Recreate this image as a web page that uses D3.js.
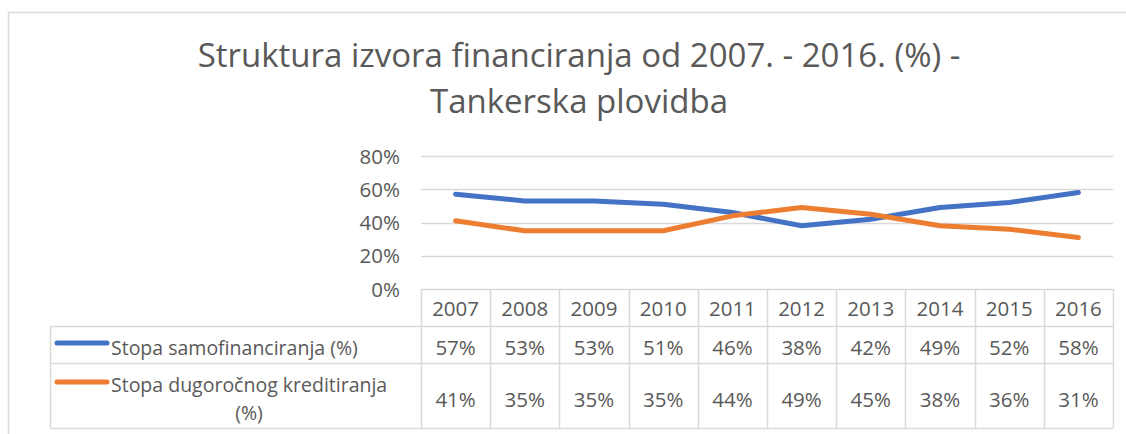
<!DOCTYPE html>
<html>
<head>
<meta charset="utf-8">
<script src="https://cdn.jsdelivr.net/npm/d3@7"></script>
<style>
  html, body { margin: 0; padding: 0; background: #fff; }
  svg { display: block; }
  text { font-family: "Open Sans", "Noto Sans", sans-serif; fill: #595959; }
</style>
</head>
<body>
<svg id="chart" width="1126" height="434"></svg>
<script>
// Financing structure, tanker shipping, 2007–2016
const years = ["2007", "2008", "2009", "2010", "2011", "2012", "2013", "2014", "2015", "2016"];
const selfFinancing = [57, 53, 53, 51, 46, 38, 42, 49, 52, 58];
const longTermCredit = [41, 35, 35, 35, 44, 49, 45, 38, 36, 31];
const seriesNames = ["Stopa samofinanciranja (%)", "Stopa dugoročnog kreditiranja (%)"];
const yTicks = [0, 20, 40, 60, 80];
const titleLines = ["Struktura izvora financiranja od 2007. - 2016. (%) -", "Tankerska plovidba"];

const series = [
  { name: seriesNames[0], values: selfFinancing, color: "#4472C4" },
  { name: seriesNames[1], values: longTermCredit, color: "#ED7D31" }
];

const svg = d3.select("#chart");
const grid = "#d9d9d9";

// outer chart frame
svg.append("rect")
  .attr("x", 8.5).attr("y", 12.5)
  .attr("width", 1140).attr("height", 440)
  .attr("fill", "none").attr("stroke", grid).attr("stroke-width", 1.5);

// title
const title = svg.append("text")
  .attr("text-anchor", "middle")
  .style("font-size", "33px");
title.selectAll("tspan").data(titleLines).join("tspan")
  .attr("x", 579)
  .attr("y", (d, i) => 67 + i * 46)
  .text(d => d);

// scales
const x = d3.scaleBand().domain(years).range([421, 1113]);
const y = d3.scaleLinear().domain([0, 80]).range([289, 156]);

// horizontal gridlines
svg.append("g").selectAll("line").data(yTicks.filter(t => t > 0)).join("line")
  .attr("x1", 421).attr("x2", 1113)
  .attr("y1", d => Math.round(y(d)) + 0.5).attr("y2", d => Math.round(y(d)) + 0.5)
  .attr("stroke", grid).attr("stroke-width", 1.5);

// y axis labels
const yAxis = svg.append("g")
  .attr("transform", "translate(400,0)")
  .call(d3.axisLeft(y).tickValues(yTicks).tickFormat(d => d + "%").tickSize(0).tickPadding(0));
yAxis.select(".domain").remove();
yAxis.selectAll("text")
  .attr("x", 0).attr("dy", "0.35em")
  .style("font-family", "\"Open Sans\", sans-serif")
  .style("font-size", "20.5px").attr("fill", "#595959");

// lines
const line = d3.line()
  .x((d, i) => x(years[i]) + x.bandwidth() / 2)
  .y(d => y(d));
svg.append("g").selectAll("path").data(series).join("path")
  .attr("d", d => line(d.values))
  .attr("fill", "none")
  .attr("stroke", d => d.color)
  .attr("stroke-width", 5)
  .attr("stroke-linejoin", "round")
  .attr("stroke-linecap", "round");

// data table
const rowTop = [289, 326, 363];
const rowBottom = [326, 363, 428];
const labelLeft = 50;
const table = svg.append("g");

// column separators
table.selectAll("line.hcol").data(d3.range(years.length + 1)).join("line")
  .attr("class", "hcol")
  .attr("x1", i => Math.round(i < years.length ? x(years[i]) : x.range()[1]) + 0.5)
  .attr("x2", i => Math.round(i < years.length ? x(years[i]) : x.range()[1]) + 0.5)
  .attr("y1", rowTop[0]).attr("y2", rowBottom[2])
  .attr("stroke", grid).attr("stroke-width", 1.5);
// label column left edge
table.append("line")
  .attr("x1", labelLeft + 0.5).attr("x2", labelLeft + 0.5)
  .attr("y1", rowTop[1]).attr("y2", rowBottom[2])
  .attr("stroke", grid).attr("stroke-width", 1.5);
// horizontal rules
table.append("line")
  .attr("x1", 421).attr("x2", 1113)
  .attr("y1", rowTop[0] + 0.5).attr("y2", rowTop[0] + 0.5)
  .attr("stroke", grid).attr("stroke-width", 1.5);
table.selectAll("line.hrow").data([rowTop[1], rowTop[2], rowBottom[2]]).join("line")
  .attr("class", "hrow")
  .attr("x1", labelLeft).attr("x2", 1113)
  .attr("y1", d => d + 0.5).attr("y2", d => d + 0.5)
  .attr("stroke", grid).attr("stroke-width", 1.5);

// year headers
table.selectAll("text.year").data(years).join("text")
  .attr("class", "year")
  .attr("x", d => x(d) + x.bandwidth() / 2)
  .attr("y", 316)
  .attr("text-anchor", "middle")
  .style("font-size", "20.5px")
  .text(d => d);

// value cells
const valueBaselines = [355, 407];
series.forEach((s, si) => {
  table.selectAll("text.v" + si).data(s.values).join("text")
    .attr("class", "v" + si)
    .attr("x", (d, i) => x(years[i]) + x.bandwidth() / 2)
    .attr("y", valueBaselines[si])
    .attr("text-anchor", "middle")
    .style("font-size", "20.5px")
    .text(d => d + "%");
});

// legend keys and series labels
const keyY = [343, 382];
series.forEach((s, si) => {
  table.append("line")
    .attr("x1", 57).attr("x2", 107)
    .attr("y1", keyY[si]).attr("y2", keyY[si])
    .attr("stroke", s.color).attr("stroke-width", 5)
    .attr("stroke-linecap", "round");
});
table.append("text")
  .attr("x", 111).attr("y", 355)
  .style("font-size", "19.5px")
  .text(seriesNames[0]);
const label2 = seriesNames[1].split(" ");
const l2a = label2.slice(0, 3).join(" ");
const l2b = label2.slice(3).join(" ");
const t2 = table.append("text").style("font-size", "19.5px");
t2.append("tspan").attr("x", 111).attr("y", 392).text(l2a);
t2.append("tspan").attr("x", 249).attr("y", 420).attr("text-anchor", "middle").text(l2b);
</script>
</body>
</html>
